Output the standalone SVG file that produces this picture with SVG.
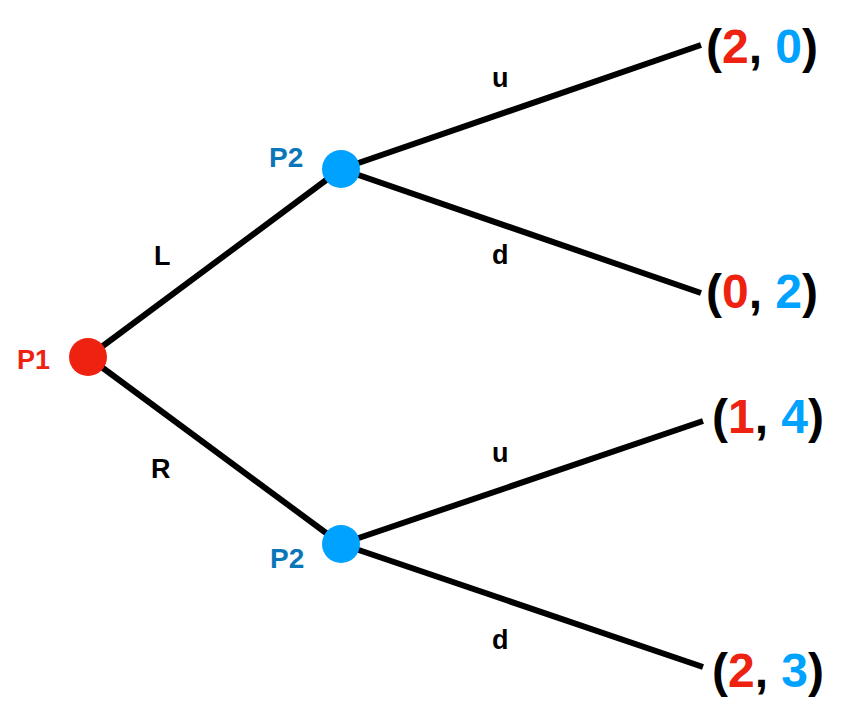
<svg xmlns="http://www.w3.org/2000/svg" width="868" height="719" viewBox="0 0 868 719">
<style>
text{font-family:"Liberation Sans",Arial,sans-serif;font-weight:bold}
.edge{stroke:#000;stroke-width:6;fill:none}
.lbl{font-size:27px;fill:#000}
.pay{font-size:48px;fill:#000}
.r{fill:#EE2211}
.b{fill:#00A2FF}
.p2{font-size:28px;fill:#0A76BA}
.p1{font-size:27px;fill:#EE2211}
</style>
<rect width="868" height="719" fill="#fff"/>
<g id="connectors">
<line class="edge" x1="88" y1="357" x2="341" y2="169"/>
<line class="edge" x1="88" y1="357" x2="341" y2="544"/>
<line class="edge" x1="341" y1="169" x2="701" y2="45"/>
<line class="edge" x1="341" y1="169" x2="701" y2="293"/>
<line class="edge" x1="341" y1="544" x2="703" y2="421"/>
<line class="edge" x1="341" y1="544" x2="703" y2="667"/>
<text class="lbl" x="154" y="265">L</text>
<text class="lbl" x="151" y="478">R</text>
<text class="lbl" x="492" y="87">u</text>
<text class="lbl" x="492" y="264">d</text>
<text class="lbl" x="492" y="462">u</text>
<text class="lbl" x="492" y="649">d</text>
</g>
<g id="p1">
<circle cx="88" cy="357" r="19" fill="#EE2211"/>
<text class="p1" x="17" y="369">P1</text>
</g>
<g id="p2-top">
<circle cx="341" cy="169" r="19" fill="#00A2FF"/>
<text class="p2" x="269" y="167">P2</text>
</g>
<g id="p2-bottom">
<circle cx="341" cy="544" r="19" fill="#00A2FF"/>
<text class="p2" x="270" y="568">P2</text>
</g>
<g id="leaf-Lu"><text class="pay" x="706" y="63">(<tspan class="r">2</tspan>, <tspan class="b">0</tspan>)</text></g>
<g id="leaf-Ld"><text class="pay" x="706" y="308">(<tspan class="r">0</tspan>, <tspan class="b">2</tspan>)</text></g>
<g id="leaf-Ru"><text class="pay" x="712" y="433">(<tspan class="r">1</tspan>, <tspan class="b">4</tspan>)</text></g>
<g id="leaf-Rd"><text class="pay" x="712" y="687">(<tspan class="r">2</tspan>, <tspan class="b">3</tspan>)</text></g>
</svg>
